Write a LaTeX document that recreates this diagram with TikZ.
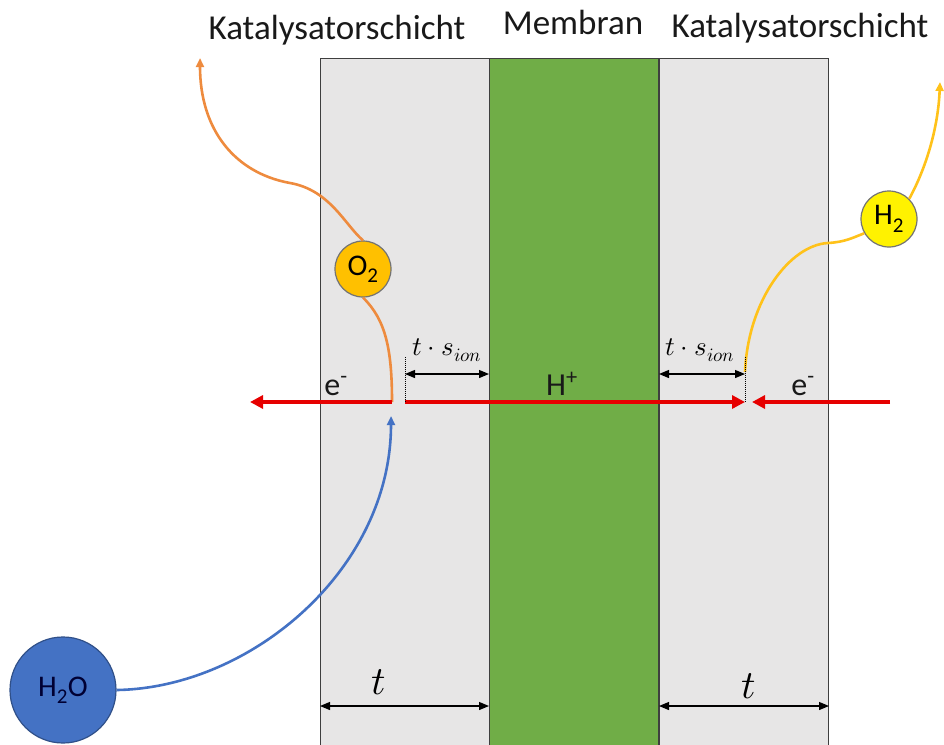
\documentclass[tikz,border=0pt]{standalone}
\usepackage{fontspec}
\usepackage{unicode-math}
\setmainfont{Carlito}
\setmathfont{Latin Modern Math}
\usetikzlibrary{arrows.meta, positioning}

\definecolor{layergray}{HTML}{E7E6E6}
\definecolor{layeredge}{HTML}{3F3F3F}
\definecolor{membgreen}{HTML}{70AD47}
\definecolor{oxyorange}{HTML}{EE8B3E}
\definecolor{oxyfill}{HTML}{FFC000}
\definecolor{hydyellow}{HTML}{FFC21A}
\definecolor{waterblue}{HTML}{4472C4}
\definecolor{flowred}{HTML}{E60000}

\begin{document}
\begin{tikzpicture}[x=1pt, y=-1pt,
                    layer/.style={draw=layeredge, line width=1pt, minimum width=169pt, minimum height=700pt, anchor=north west, inner sep=0pt},
                    heading/.style={font=\fontsize{35}{40}\selectfont, text=black!90},
                    charge/.style={font=\fontsize{32}{36}\selectfont, text=black!90},
                    molecule/.style={circle, draw=black!55, line width=1.2pt, inner sep=0pt, font=\fontsize{30}{32}\selectfont},
                    ionflow/.style={flowred, line width=3.2pt, -{Triangle[length=13pt, width=13pt]}},
                    gasflow/.style={line width=2.6pt, -{Triangle[length=9pt, width=8pt]}},
                    dimline/.style={line width=1.2pt, {Triangle[length=10pt, width=8pt]}-{Triangle[length=10pt, width=8pt]}},
                    mathlabel/.style={font=\fontsize{27}{30}\selectfont}
                ]
                \useasboundingbox (0,0) rectangle (944,744);
                % layers
                \node[layer, fill=layergray] (leftcat) at (320,58) {};
                \node[layer, fill=membgreen] (membran) at (489,58) {};
                \node[layer, fill=layergray] (rightcat) at (659,58) {};

                \node[heading] (lefttitle) at (337,30) {Katalysatorschicht};
                \node[heading] (membtitle) at (573,22) {Membran};
                \node[heading] (righttitle) at (800,28) {Katalysatorschicht};

                % reaction points
                \coordinate (anodept) at (392,402);
                \coordinate (cathodept) at (745,402);
                \coordinate (ionstart) at (405,402);
                \coordinate (elecleft) at (250,402);
                \coordinate (elecright) at (890,402);
                \coordinate (o2out) at (200,58);
                \coordinate (h2in) at (940,82);
                \coordinate (waterin) at (391,416);

                \node[molecule, fill=oxyfill, minimum size=56pt] (o2) at (363,269) {O\textsubscript{2}};
                \node[molecule, fill=yellow, minimum size=56pt] (h2) at (889,219) {H\textsubscript{2}};
                \node[molecule, fill=waterblue, draw=waterblue!70!black, minimum size=106pt, text=black!80!blue] (h2o) at (63,690) {H\textsubscript{2}O};

                % gas paths
                \draw[oxyorange, line width=2.6pt] (anodept) .. controls (392,350) and (386,320) .. (o2.south);
                \draw[gasflow, oxyorange] (o2.north) .. controls (345,225) and (330,190) .. (290,183)
                    .. controls (235,173) and (200,130) .. (o2out);
                \draw[hydyellow, line width=2.6pt] (cathodept |- 0,372) .. controls (748,300) and (790,245) .. (828,243)
                    .. controls (845,242) and (852,238) .. (h2.210);
                \draw[gasflow, hydyellow] (h2.north east) .. controls (925,170) and (938,130) .. (h2in);
                \draw[gasflow, waterblue] (h2o.east) .. controls (250,688) and (391,570) .. (waterin);

                % charge transport
                \draw[ionflow] (anodept) -- (elecleft);
                \draw[ionflow] (ionstart) -- (cathodept);
                \draw[ionflow] (elecright) -- (cathodept -| 752,0);
                \node[charge] (eleft) at (336,386) {e\textsuperscript{-}};
                \node[charge] (hplus) at (562,384) {H\textsuperscript{+}};
                \node[charge] (eright) at (803,386) {e\textsuperscript{-}};

                % thicknesses
                \draw[densely dotted, line width=1pt] (ionstart) -- (405,356);
                \draw[densely dotted, line width=1pt] (cathodept) -- (745,356);
                \draw[dimline] (405,374) -- (membran.west |- 0,374);
                \draw[dimline] (membran.east |- 0,374) -- (745,374);
                \node[mathlabel] (sionleft) at (447,350) {$t\cdot s_{ion}$};
                \node[mathlabel] (sionright) at (700,350) {$t\cdot s_{ion}$};

                \draw[dimline] (leftcat.west |- 0,706) -- (membran.west |- 0,706);
                \draw[dimline] (membran.east |- 0,706) -- (rightcat.east |- 0,706);
                \node[font=\fontsize{40}{44}\selectfont] (tleft) at (379,682) {$t$};
                \node[font=\fontsize{40}{44}\selectfont] (tright) at (749,686) {$t$};
                \end{tikzpicture}
\end{document}
